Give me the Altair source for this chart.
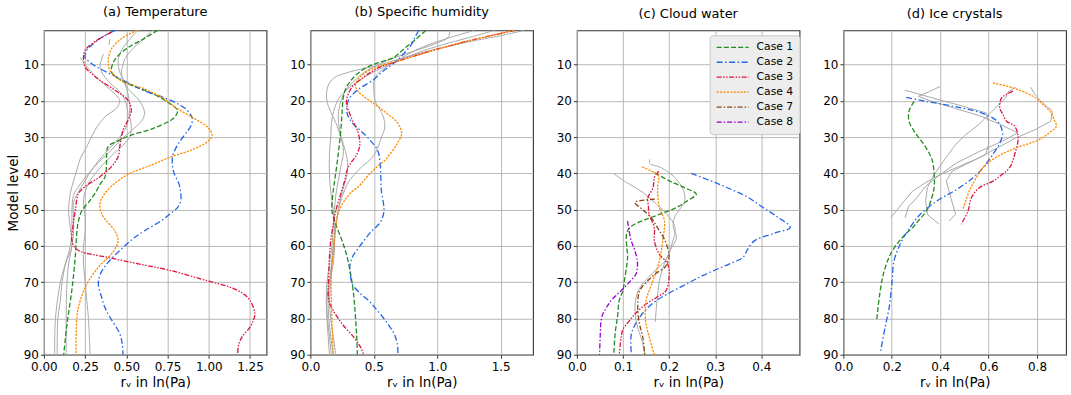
import altair as alt
import pandas as pd

CASES = ["Case 1", "Case 2", "Case 3", "Case 4", "Case 7", "Case 8"]
COLORS = ["#228B22", "#2265e8", "#DC143C", "#FF8C00", "#8B4513", "#9400D3"]
DASHES = [[5, 2.2], [6, 2.5, 1.5, 2.5], [5, 1.5, 1.5, 1.5, 1.5, 1.5],
          [2.2, 1.2], [5, 2, 1.5, 2], [5, 2, 1.5, 2]]
GRAY = "#a9a9a9"

# ---------------- (a) Temperature: (model level, r_v) ----------------
temp_case1 = [(0.5, 0.69), (3, 0.60), (5, 0.52), (7.5, 0.45), (9.5, 0.42), (12, 0.41), (14.8, 0.49),
              (16.5, 0.58), (18, 0.66), (20, 0.74), (22.6, 0.81), (24, 0.80), (25.3, 0.77), (27.6, 0.66),
              (29.4, 0.53), (31, 0.45), (32.5, 0.39), (35, 0.38), (37, 0.38), (41, 0.37), (43, 0.34),
              (45.5, 0.31), (48, 0.27), (50.3, 0.23), (53, 0.21), (56, 0.20), (63, 0.19), (72, 0.17),
              (81.5, 0.14), (90, 0.12)]
temp_case2 = [(0.5, 0.43), (2.5, 0.35), (4.2, 0.30), (6, 0.26), (8, 0.25), (9, 0.27), (10.6, 0.32),
              (12.9, 0.42), (15.2, 0.52), (17, 0.60), (19.3, 0.74), (21, 0.82), (22.6, 0.87), (24.8, 0.90),
              (27, 0.89), (29, 0.86), (30.8, 0.83), (33, 0.80), (35.4, 0.78), (38, 0.78), (40, 0.79),
              (43, 0.82), (45.5, 0.83), (47.5, 0.83), (49.4, 0.81), (51, 0.77), (53.1, 0.71), (55.8, 0.61),
              (58, 0.54), (60.4, 0.48), (63, 0.42), (65, 0.38), (68, 0.34), (70.5, 0.33), (74.2, 0.35),
              (77, 0.37), (79.6, 0.40), (84.2, 0.46), (87, 0.475), (90, 0.48)]
temp_case3 = [(1, 0.41), (3.3, 0.32), (6, 0.25), (7.9, 0.24), (10.6, 0.25), (12.5, 0.29), (14.3, 0.34),
              (17, 0.43), (19.8, 0.51), (22.6, 0.53), (25.3, 0.51), (28, 0.48), (32.6, 0.46), (35.4, 0.45),
              (38.1, 0.41), (40.9, 0.34), (43.6, 0.25), (45.5, 0.21), (50.3, 0.19), (55, 0.175),
              (58.6, 0.17), (60.5, 0.19), (61.5, 0.22), (63.1, 0.38), (65, 0.58), (66.8, 0.77),
              (69.6, 0.99), (71.4, 1.13), (73.2, 1.21), (75, 1.25), (78.7, 1.28), (80.5, 1.27),
              (82.4, 1.25), (85.2, 1.20), (87.5, 1.18), (90, 1.175)]
temp_case4 = [(0.5, 0.565), (2.8, 0.47), (5.6, 0.41), (8.8, 0.39), (11.6, 0.40), (14.3, 0.465),
              (16.6, 0.605), (18.9, 0.71), (22.1, 0.81), (24.8, 0.91), (27.1, 0.99), (29.4, 1.02),
              (31.3, 0.99), (33.6, 0.89), (35.4, 0.77), (37.7, 0.65), (40, 0.52), (42.7, 0.43),
              (45.5, 0.37), (47.5, 0.345), (49.4, 0.34), (51.5, 0.355), (53.1, 0.38), (55.8, 0.43),
              (58.6, 0.45), (60.5, 0.435), (62.2, 0.41), (65.9, 0.33), (70.5, 0.26), (75.1, 0.22),
              (79.6, 0.20), (90, 0.195)]
temp_gray1 = [(0.5, 0.66), (3, 0.60), (6, 0.53), (8.5, 0.49), (10, 0.48), (12, 0.47), (14, 0.48),
              (16, 0.50), (18, 0.54), (20, 0.58), (23, 0.61), (25, 0.60), (27, 0.56), (29, 0.51),
              (31, 0.46), (34, 0.40), (37, 0.33), (40, 0.27), (43, 0.22), (46, 0.18), (50, 0.17),
              (55, 0.17), (60, 0.16), (65, 0.13), (70, 0.11), (75, 0.10), (80, 0.085), (90, 0.08)]
temp_gray2 = [(0.5, 0.57), (3, 0.52), (6, 0.47), (9, 0.45), (12, 0.46), (15, 0.49), (18, 0.51),
              (21, 0.52), (24, 0.52), (27, 0.53), (30, 0.52), (33, 0.46), (36, 0.39), (39, 0.33),
              (42, 0.28), (45, 0.25), (48, 0.24), (52, 0.25), (56, 0.25), (60, 0.24), (65, 0.24),
              (70, 0.25), (75, 0.26), (80, 0.27), (90, 0.28)]
temp_gray3 = [(8, 0.22), (10, 0.25), (13, 0.31), (16, 0.38), (18.5, 0.44), (20, 0.46), (22, 0.44),
              (24.4, 0.37), (28, 0.31), (32.6, 0.26), (36, 0.22), (39, 0.20), (42, 0.18), (45.5, 0.16),
              (50, 0.15), (55, 0.16), (60, 0.17), (65, 0.13), (70, 0.10), (80, 0.07), (90, 0.065)]
temp_gray4 = [(7, 0.36), (8.5, 0.35), (10, 0.34), (12, 0.35), (15, 0.40), (18, 0.47), (21, 0.50),
              (24, 0.51), (27, 0.50), (30, 0.46), (33, 0.40), (36, 0.34), (39, 0.29), (42, 0.25),
              (45, 0.21), (48, 0.18), (52, 0.18), (56, 0.18), (60, 0.17), (65, 0.15), (70, 0.14),
              (80, 0.135), (90, 0.135)]
temp_gray5 = [(3, 0.40), (4.5, 0.395)]

# ---------------- (b) Specific humidity ----------------
hum_case1 = [(0.55, 0.91), (3, 0.83), (5.5, 0.74), (7.9, 0.66), (9.5, 0.53), (10.6, 0.45), (12.5, 0.37),
             (14.3, 0.32), (16.5, 0.28), (18.9, 0.26), (23, 0.25), (28, 0.24), (33, 0.225), (37.2, 0.21),
             (41, 0.195), (44.8, 0.18), (50.3, 0.17), (54, 0.20), (58.6, 0.25), (63.1, 0.29),
             (70.5, 0.33), (75, 0.345), (79.6, 0.355), (85, 0.365), (90, 0.37)]
hum_case2 = [(0.55, 0.855), (2, 0.83), (4.2, 0.80), (6, 0.76), (7.9, 0.71), (9.8, 0.65), (11.6, 0.58),
             (14.3, 0.49), (17, 0.37), (19.8, 0.30), (23.5, 0.29), (26, 0.33), (28, 0.39), (30.8, 0.47),
             (33.6, 0.53), (37.2, 0.55), (41, 0.555), (45, 0.56), (48, 0.575), (50.3, 0.58), (52, 0.57),
             (54, 0.54), (56, 0.48), (58.6, 0.42), (61, 0.37), (63.1, 0.33), (65.9, 0.31), (68, 0.315),
             (70.5, 0.33), (73, 0.39), (75.1, 0.46), (77.5, 0.52), (79.6, 0.57), (82, 0.62),
             (84.2, 0.66), (87, 0.685), (90, 0.69)]
hum_case3 = [(0.55, 1.605), (3.3, 1.26), (6, 0.97), (7.9, 0.79), (9.5, 0.65), (10.6, 0.55), (12, 0.48),
             (13.4, 0.42), (16.1, 0.33), (18.9, 0.29), (21, 0.285), (23.5, 0.31), (26, 0.34), (28, 0.37),
             (31.7, 0.39), (33.5, 0.38), (35.4, 0.355), (37, 0.32), (39, 0.29), (42, 0.27), (45, 0.245),
             (50.3, 0.20), (54, 0.18), (58.6, 0.16), (63, 0.15), (67.7, 0.145), (72, 0.14),
             (75.1, 0.145), (77.8, 0.18), (81.5, 0.25), (85.1, 0.34), (87.9, 0.395), (90, 0.42)]
hum_case4 = [(0.55, 1.605), (3.3, 1.26), (6, 0.97), (8.8, 0.71), (10, 0.58), (11.1, 0.49), (13.4, 0.39),
             (15.7, 0.355), (17.5, 0.38), (19, 0.43), (20.7, 0.50), (22.3, 0.56), (23.9, 0.62),
             (26.2, 0.69), (29, 0.72), (30.8, 0.70), (32.6, 0.67), (34.5, 0.63), (36.3, 0.59),
             (38, 0.53), (40, 0.47), (42, 0.42), (43.6, 0.38), (45.2, 0.32), (46.5, 0.29), (48.5, 0.25),
             (52.2, 0.21), (55, 0.20), (58.6, 0.19), (67.7, 0.165), (75, 0.165), (81.5, 0.17),
             (90, 0.18)]
hum_gray1 = [(0.55, 1.68), (2, 1.5), (3.3, 1.3), (5, 1.08), (6.5, 0.9), (8, 0.74), (9.5, 0.6),
             (10.6, 0.48), (11.5, 0.36), (12.5, 0.26), (13.5, 0.19), (15, 0.15), (17, 0.13), (20, 0.13),
             (23, 0.16), (26, 0.2), (30, 0.24), (34, 0.26), (38, 0.24), (42, 0.22), (46, 0.20),
             (50, 0.19), (55, 0.18), (60, 0.17), (65, 0.15), (70, 0.13), (75, 0.125), (80, 0.13),
             (85, 0.14), (90, 0.15)]
hum_gray2 = [(0.55, 1.29), (2.5, 1.1), (4.5, 0.93), (6.5, 0.8), (8.5, 0.7), (10.6, 0.6), (12.5, 0.53),
             (14.5, 0.50), (17, 0.50), (20, 0.51), (22.5, 0.55), (25, 0.58), (27.5, 0.585), (30, 0.56),
             (33, 0.53), (35.5, 0.49), (38, 0.41), (40.5, 0.34), (43, 0.29), (46, 0.255), (50, 0.22),
             (55, 0.20), (60, 0.18), (65, 0.165), (70, 0.15), (75, 0.14), (80, 0.145), (85, 0.16),
             (90, 0.18)]
hum_gray3 = [(0.55, 1.10), (2.5, 1.085), (4, 1.0), (5.5, 0.88), (7, 0.75), (8.5, 0.63), (10, 0.53),
             (11.5, 0.45), (13, 0.39), (15, 0.33), (17, 0.28), (20, 0.24), (24, 0.22), (28, 0.23),
             (32, 0.26), (36, 0.29), (40, 0.29), (44, 0.26), (48, 0.23), (52, 0.21), (56, 0.19),
             (60, 0.185), (65, 0.17), (70, 0.16), (75, 0.15), (80, 0.16), (85, 0.18), (90, 0.20)]
hum_gray4 = [(0.55, 1.45), (2.5, 1.25), (4.5, 1.04), (6.5, 0.86), (8.5, 0.72), (10.6, 0.58),
             (12.5, 0.47), (14.5, 0.38), (16.5, 0.30), (18.5, 0.24), (21, 0.20), (25, 0.17), (30, 0.16),
             (35, 0.15), (40, 0.15), (45, 0.16), (50, 0.18), (55, 0.19), (60, 0.19), (65, 0.18),
             (70, 0.15), (75, 0.13), (80, 0.135), (85, 0.15), (90, 0.165)]

# ---------------- (c) Cloud water ----------------
cw_case1 = [(39.8, 0.169), (42, 0.20), (44, 0.235), (45.7, 0.259), (47.5, 0.24), (49.4, 0.216),
            (51, 0.185), (52.6, 0.151), (54, 0.125), (54.9, 0.115), (56.4, 0.108), (60, 0.108),
            (63, 0.11), (65.5, 0.108), (69.6, 0.103), (72.3, 0.10), (75, 0.092), (79.6, 0.088),
            (84, 0.083), (90, 0.08)]
cw_case2 = [(40, 0.248), (42, 0.29), (43.8, 0.324), (46.5, 0.37), (49.4, 0.404), (52, 0.435),
            (54.9, 0.463), (56.4, 0.43), (58.6, 0.385), (61, 0.37), (63.2, 0.36), (65, 0.33),
            (66.9, 0.295), (69, 0.26), (71, 0.23), (73, 0.20), (75.1, 0.172), (77.5, 0.15),
            (79.7, 0.136), (82, 0.125), (84.3, 0.118), (87, 0.117), (90, 0.118)]
cw_case3 = [(39.4, 0.178), (40.2, 0.172), (41.2, 0.168), (44, 0.165), (46.7, 0.154), (49, 0.155),
            (51.3, 0.157), (55, 0.168), (58.6, 0.168), (62.3, 0.179), (65, 0.197), (68.7, 0.20),
            (72.4, 0.193), (74, 0.175), (76, 0.15), (78.5, 0.128), (80.6, 0.114), (83, 0.10),
            (85.2, 0.096), (90, 0.092)]
cw_case4 = [(38.2, 0.142), (39.8, 0.168), (40.7, 0.177), (44, 0.175), (49.4, 0.179), (53.1, 0.19),
            (58.6, 0.186), (64.1, 0.179), (69.6, 0.165), (75.1, 0.15), (80.6, 0.149), (85.2, 0.157),
            (90, 0.168)]
cw_case7 = [(47.1, 0.169), (48, 0.126), (50, 0.143), (52.2, 0.161), (55, 0.175), (58.2, 0.19),
            (62.3, 0.2), (64.5, 0.197), (66, 0.19), (67.5, 0.172), (69.2, 0.157), (72.4, 0.136),
            (77, 0.132), (81.6, 0.136), (85.2, 0.143), (90, 0.147)]
cw_case8 = [(53.1, 0.11), (55, 0.112), (58.6, 0.118), (61, 0.125), (64.1, 0.131), (66, 0.131),
            (67.8, 0.128), (69.5, 0.117), (71.5, 0.103), (73.3, 0.088), (75.1, 0.074), (77, 0.064),
            (78.8, 0.056), (81, 0.052), (83.4, 0.051), (90, 0.049)]
cw_gray1 = [(36.1, 0.158), (37.2, 0.158), (38.4, 0.183), (40.7, 0.209), (43.5, 0.227), (45.5, 0.233),
            (47.6, 0.234), (49.9, 0.223), (52, 0.212), (54.9, 0.209), (57.7, 0.216), (61.3, 0.202),
            (65.9, 0.187), (69, 0.18), (72.3, 0.176), (76, 0.173), (81, 0.17)]
cw_gray2 = [(40, 0.079), (42.5, 0.108), (45.3, 0.144), (48.5, 0.173), (51.2, 0.195), (54.9, 0.213),
            (59.5, 0.206), (64, 0.192), (67.7, 0.162), (72.3, 0.133), (76.9, 0.126), (81.5, 0.13),
            (86.1, 0.141), (90, 0.148)]

# ---------------- (d) Ice crystals ----------------
ice_case1 = [(20.1, 0.292), (21.5, 0.28), (22.8, 0.271), (25.6, 0.271), (28.3, 0.292), (30, 0.31),
             (32, 0.333), (34.5, 0.355), (36.6, 0.368), (40.3, 0.375), (43.9, 0.375), (47.6, 0.361),
             (49.5, 0.35), (51.3, 0.333), (53, 0.31), (55, 0.285), (56.5, 0.26), (58.2, 0.237),
             (60.5, 0.21), (63.2, 0.188), (67.8, 0.165), (73.3, 0.15), (80.2, 0.138)]
ice_case2 = [(19, 0.26), (20.1, 0.34), (21.5, 0.46), (23.3, 0.57), (25, 0.625), (26.5, 0.647),
             (29.2, 0.658), (31.5, 0.647), (34.7, 0.618), (38.4, 0.577), (41.2, 0.536), (44.4, 0.468),
             (47.6, 0.386), (51.3, 0.317), (54, 0.285), (57.7, 0.248), (60.5, 0.228), (64.1, 0.209),
             (70.6, 0.20), (77, 0.189), (82.5, 0.172), (88.9, 0.154)]
ice_case3 = [(17.3, 0.701), (18.3, 0.67), (19.2, 0.653), (21.9, 0.646), (23.8, 0.66), (25.6, 0.674),
             (27, 0.708), (30.2, 0.722), (34.7, 0.708), (38.4, 0.687), (40.3, 0.655), (42.1, 0.618),
             (43.9, 0.563), (46.7, 0.529), (50.3, 0.515), (54, 0.487)]
ice_case4 = [(15, 0.618), (16.4, 0.701), (18.7, 0.784), (21, 0.825), (23.3, 0.859), (25, 0.87),
             (27, 0.88), (28.8, 0.85), (30.6, 0.811), (32.9, 0.715), (34.5, 0.66), (36.1, 0.618),
             (38.4, 0.577), (41.2, 0.549), (43.5, 0.53), (45.7, 0.515), (49.9, 0.494)]
ice_gray1 = [(16.2, 0.774), (18, 0.79), (20, 0.815), (22.8, 0.864), (25.6, 0.857), (28, 0.79),
             (30.2, 0.712), (33, 0.635), (35.7, 0.56), (38, 0.48), (40.3, 0.40), (42.5, 0.34),
             (44.9, 0.285), (48.5, 0.24), (52.2, 0.196)]
ice_gray2 = [(16, 0.40), (17.4, 0.355), (18.7, 0.31), (20, 0.36), (22, 0.46), (24, 0.56), (26.5, 0.65),
             (28.8, 0.72), (31, 0.66), (34, 0.56), (37, 0.47), (40.3, 0.40), (43.5, 0.34), (47, 0.30),
             (49, 0.27), (52.2, 0.255)]
ice_gray3 = [(17, 0.254), (19, 0.36), (21, 0.47), (23.3, 0.59), (26, 0.60), (29, 0.60), (32, 0.60),
             (34.8, 0.588), (37.5, 0.505), (39.4, 0.45), (42, 0.425), (46.5, 0.443), (51.3, 0.464),
             (53.1, 0.437)]
ice_gray4 = [(16.2, 0.712), (17.5, 0.68), (19.2, 0.67), (21.5, 0.635), (23.8, 0.60), (26.5, 0.56),
             (29.3, 0.505), (32, 0.464), (35.7, 0.423), (40.3, 0.375), (43.9, 0.347), (47.6, 0.34),
             (51.3, 0.347), (54, 0.395)]

Y_TICKS = [10, 20, 30, 40, 50, 60, 70, 80, 90]
X_TITLE = "rᵥ in ln(Pa)"


def colored_frame(series):
    rows = []
    for case, pts in series.items():
        for lev, val in pts:
            rows.append({"case": case, "level": lev, "value": val})
    return pd.DataFrame(rows)


def gray_frame(series_list):
    rows = []
    for i, pts in enumerate(series_list):
        for lev, val in pts:
            rows.append({"sid": f"g{i}", "level": lev, "value": val})
    return pd.DataFrame(rows)


def panel(title, colored, grays, xdom, xticks, fmt, ytitle=None, legend=None, gray_interp="catmull-rom"):
    x = alt.X("value:Q", scale=alt.Scale(domain=xdom, nice=False, zero=False),
              axis=alt.Axis(values=xticks, format=fmt, title=X_TITLE))
    yaxis = alt.Axis(values=Y_TICKS, title=ytitle) if ytitle else alt.Axis(values=Y_TICKS, title=None)
    y = alt.Y("level:Q", scale=alt.Scale(domain=[0.5, 90], reverse=True, nice=False, zero=False),
              axis=yaxis)
    g = alt.Chart(gray_frame(grays)).mark_line(color=GRAY, strokeWidth=1, interpolate=gray_interp).encode(
        x=x, y=y, detail="sid:N", order="level:Q")
    c = alt.Chart(colored_frame(colored)).mark_line(strokeWidth=1.3, interpolate="catmull-rom").encode(
        x=x, y=y,
        color=alt.Color("case:N", scale=alt.Scale(domain=CASES, range=COLORS), legend=legend),
        strokeDash=alt.StrokeDash("case:N", scale=alt.Scale(domain=CASES, range=DASHES), legend=legend),
        order="level:Q")
    return alt.layer(g, c).properties(width=223, height=325, title=title)


legend = alt.Legend(orient="none", legendX=133, legendY=5, title=None, fillColor="#ededed",
                    strokeColor="#c8c8c8", padding=6, cornerRadius=3, labelFontSize=10.8,
                    labelFont="DejaVu Sans", labelColor="#000000", symbolType="stroke",
                    symbolSize=1024, symbolStrokeWidth=1.3, clipHeight=12, rowPadding=3,
                    labelOffset=7)

pa = panel("(a) Temperature",
           {"Case 1": temp_case1, "Case 2": temp_case2, "Case 3": temp_case3, "Case 4": temp_case4},
           [temp_gray1, temp_gray2, temp_gray3, temp_gray4, temp_gray5],
           [0, 1.35], [0, 0.25, 0.5, 0.75, 1.0, 1.25], ".2f", ytitle="Model level")
pb = panel("(b) Specific humidity",
           {"Case 1": hum_case1, "Case 2": hum_case2, "Case 3": hum_case3, "Case 4": hum_case4},
           [hum_gray1, hum_gray2, hum_gray3, hum_gray4],
           [0, 1.755], [0, 0.5, 1.0, 1.5], ".1f")
pc = panel("(c) Cloud water",
           {"Case 1": cw_case1, "Case 2": cw_case2, "Case 3": cw_case3, "Case 4": cw_case4,
            "Case 7": cw_case7, "Case 8": cw_case8},
           [cw_gray1, cw_gray2],
           [0, 0.483], [0, 0.1, 0.2, 0.3, 0.4], ".1f", legend=legend)
pd_ = panel("(d) Ice crystals",
            {"Case 1": ice_case1, "Case 2": ice_case2, "Case 3": ice_case3, "Case 4": ice_case4},
            [ice_gray1, ice_gray2, ice_gray3, ice_gray4],
            [0, 0.92], [0, 0.2, 0.4, 0.6, 0.8], ".1f", gray_interp="linear")

chart = alt.HConcatChart(hconcat=[pa, pb, pc, pd_], spacing=44, bounds="flush").resolve_scale(
    color="independent", strokeDash="independent"
).resolve_legend(
    color="independent", strokeDash="independent"
).properties(
    padding={"left": 5, "top": 4, "right": 4, "bottom": 3}
).configure_view(stroke="#333333", strokeWidth=1.1).configure_axis(
    gridColor="#b0b0b0", gridWidth=0.9, domain=False, tickColor="#333333", tickSize=3.5,
    labelFont="DejaVu Sans", labelFontSize=12, labelColor="#000000",
    labelFlush=False, labelOverlap=False,
    titleFont="DejaVu Sans", titleFontSize=13.5, titleFontWeight="normal", titleColor="#000000",
    titlePadding=3
).configure_axisX(labelPadding=3).configure_axisY(labelPadding=2).configure_title(
    font="DejaVu Sans", fontSize=13, fontWeight="normal", color="#000000", offset=9
)

chart.save("out.html", embed_options={"renderer": "svg", "actions": False})
